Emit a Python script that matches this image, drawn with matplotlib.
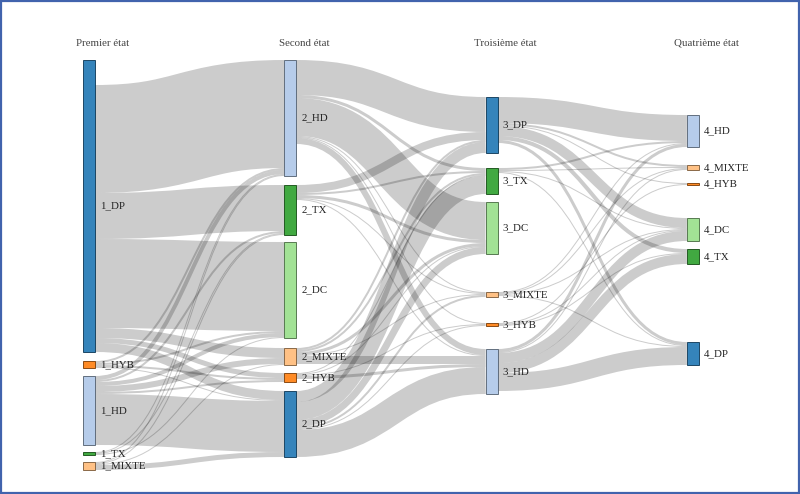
import matplotlib
matplotlib.use("Agg")
import matplotlib.pyplot as plt
from matplotlib.path import Path
from matplotlib.patches import PathPatch, Rectangle

# --- données ---
etats = ["Premier état", "Second état", "Troisième état", "Quatrième état"]
noeuds_1 = ["1_DP", "1_HYB", "1_HD", "1_TX", "1_MIXTE"]
noeuds_2 = ["2_HD", "2_TX", "2_DC", "2_MIXTE", "2_HYB", "2_DP"]
noeuds_3 = ["3_DP", "3_TX", "3_DC", "3_MIXTE", "3_HYB", "3_HD"]
noeuds_4 = ["4_HD", "4_MIXTE", "4_HYB", "4_DC", "4_TX", "4_DP"]

# patients sans second état
sans_suite = {"1_DP": 25}

liens_1_2 = [
    ("1_DP", "2_HD", 108), ("1_DP", "2_TX", 46), ("1_DP", "2_DC", 89),
    ("1_DP", "2_MIXTE", 10), ("1_DP", "2_HYB", 5), ("1_DP", "2_DP", 9),
    ("1_HYB", "2_HD", 2), ("1_HYB", "2_DC", 2), ("1_HYB", "2_HYB", 2), ("1_HYB", "2_DP", 1),
    ("1_HD", "2_HD", 4), ("1_HD", "2_TX", 2), ("1_HD", "2_DC", 4),
    ("1_HD", "2_MIXTE", 6), ("1_HD", "2_HYB", 2), ("1_HD", "2_DP", 51),
    ("1_TX", "2_HD", 1), ("1_TX", "2_TX", 1), ("1_TX", "2_DC", 1),
    ("1_MIXTE", "2_HD", 1), ("1_MIXTE", "2_TX", 1), ("1_MIXTE", "2_MIXTE", 1), ("1_MIXTE", "2_DP", 5),
]
liens_2_3 = [
    ("2_HD", "3_DP", 35), ("2_HD", "3_TX", 3), ("2_HD", "3_DC", 38),
    ("2_HD", "3_MIXTE", 1), ("2_HD", "3_HYB", 1), ("2_HD", "3_HD", 6),
    ("2_TX", "3_DP", 8), ("2_TX", "3_TX", 2), ("2_TX", "3_DC", 3), ("2_TX", "3_MIXTE", 1), ("2_TX", "3_HD", 1),
    ("2_MIXTE", "3_DP", 2), ("2_MIXTE", "3_TX", 2), ("2_MIXTE", "3_DC", 3),
    ("2_MIXTE", "3_MIXTE", 1), ("2_MIXTE", "3_HD", 8),
    ("2_HYB", "3_TX", 1), ("2_HYB", "3_DC", 1), ("2_HYB", "3_HYB", 1), ("2_HYB", "3_HD", 3),
    ("2_DP", "3_DP", 11), ("2_DP", "3_TX", 18), ("2_DP", "3_DC", 7),
    ("2_DP", "3_MIXTE", 2), ("2_DP", "3_HYB", 1), ("2_DP", "3_HD", 27),
]
liens_3_4 = [
    ("3_DP", "4_HD", 26), ("3_DP", "4_MIXTE", 2), ("3_DP", "4_HYB", 1),
    ("3_DP", "4_DC", 10), ("3_DP", "4_TX", 4), ("3_DP", "4_DP", 3),
    ("3_TX", "4_HD", 2), ("3_TX", "4_MIXTE", 1), ("3_TX", "4_DC", 1), ("3_TX", "4_DP", 1),
    ("3_MIXTE", "4_HD", 1), ("3_MIXTE", "4_MIXTE", 1), ("3_MIXTE", "4_DC", 1), ("3_MIXTE", "4_DP", 1),
    ("3_HYB", "4_HYB", 1), ("3_HYB", "4_DC", 1), ("3_HYB", "4_TX", 1),
    ("3_HD", "4_HD", 3), ("3_HD", "4_MIXTE", 1), ("3_HD", "4_DC", 10),
    ("3_HD", "4_TX", 10), ("3_HD", "4_DP", 18),
]

couleurs = {"DP": "#1f77b4", "HD": "#aec7e8", "TX": "#2ca02c",
            "DC": "#98df8a", "HYB": "#ff7f0e", "MIXTE": "#ffbb78"}

# --- mise en page ---
largeur_noeud = 12
x_gauche, y_haut = 83, 60
hauteur = 410
kx = 201.3
# espace vertical laissé au-dessus de chaque noeud, par colonne
ecarts = [
    [0, 9, 8, 7, 7],
    [0, 9, 7, 10, 8, 9],
    [37, 15, 8, 38, 26, 23],
    [55, 18, 13, 33, 8, 78],
]

colonnes = [noeuds_1, noeuds_2, noeuds_3, noeuds_4]
liens = liens_1_2 + liens_2_3 + liens_3_4
rang = {n: i for i, c in enumerate(colonnes) for n in c}

valeur = {}
for c in colonnes:
    for n in c:
        s_out = sum(v for a, b, v in liens if a == n) + sans_suite.get(n, 0)
        s_in = sum(v for a, b, v in liens if b == n)
        valeur[n] = max(s_out, s_in)

ky = (hauteur - sum(ecarts[0])) / sum(valeur[n] for n in noeuds_1)
dy = {n: valeur[n] * ky for n in valeur}
y = {}
for c, ec in zip(colonnes, ecarts):
    acc = 0
    for n, e in zip(c, ec):
        acc += e
        y[n] = acc
        acc += dy[n]

# profondeur des liens
sy, ty = {}, {}
for c in colonnes:
    for n in c:
        out = sorted([l for l in liens if l[0] == n], key=lambda l: y[l[1]])
        acc = sans_suite.get(n, 0) * ky
        for l in out:
            sy[l] = acc
            acc += l[2] * ky
        inc = sorted([l for l in liens if l[1] == n], key=lambda l: y[l[0]])
        acc = 0
        for l in inc:
            ty[l] = acc
            acc += l[2] * ky

# --- dessin ---
fig = plt.figure(figsize=(8, 4.94), dpi=100)
ax = fig.add_axes([0, 0, 1, 1])
ax.set_xlim(0, 800)
ax.set_ylim(494, 0)
ax.axis("off")


def xpos(n):
    return x_gauche + rang[n] * kx


for l in sorted(liens, key=lambda l: -l[2]):
    a, b, v = l
    d = v * ky
    xs = xpos(a) + largeur_noeud
    xt = xpos(b)
    ys = y_haut + y[a] + sy[l] + d / 2
    yt = y_haut + y[b] + ty[l] + d / 2
    xm = (xs + xt) / 2
    p = Path([(xs, ys), (xm, ys), (xm, yt), (xt, yt)],
             [Path.MOVETO, Path.CURVE4, Path.CURVE4, Path.CURVE4])
    ax.add_patch(PathPatch(p, fill=False, edgecolor=(0, 0, 0, 0.2),
                           lw=max(1, d) * 0.72, capstyle="butt"))


def plus_sombre(hexa):
    r, g, b = matplotlib.colors.to_rgb(hexa)
    return (r * 0.49, g * 0.49, b * 0.49)


for c in colonnes:
    for n in c:
        coul = couleurs[n.split("_")[1]]
        ax.add_patch(Rectangle((xpos(n), y_haut + y[n]), largeur_noeud, dy[n],
                               facecolor=coul, edgecolor=plus_sombre(coul), lw=0.7, alpha=0.9))
        ax.text(xpos(n) + largeur_noeud + 5, y_haut + y[n] + dy[n] / 2, n,
                ha="left", va="center", fontsize=7.8, family="Liberation Serif", color="#222222")

for i, t in enumerate(etats):
    ax.text(x_gauche + i * kx + largeur_noeud / 2 + 14, 43, t, ha="center", va="center",
            fontsize=7.8, family="Liberation Serif", color="#444444")

ax.add_patch(Rectangle((1, 1), 797.5, 491.5, fill=False, edgecolor="#4163ad", lw=1.6))

fig.savefig("out.png", dpi=100)
